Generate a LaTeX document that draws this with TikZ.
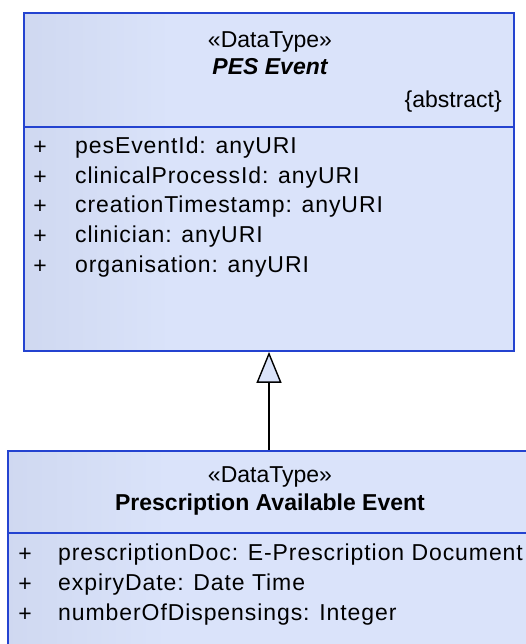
\documentclass[tikz,border=0pt]{standalone}
\usepackage{fontspec}
\setmainfont{Liberation Sans}
\usepackage{tikz}
\usetikzlibrary{positioning}
\usetikzlibrary{arrows.meta}

\definecolor{umlblue}{HTML}{2443D0}
\definecolor{umldark}{HTML}{C3CCE6}
\definecolor{umllight}{HTML}{DAE3FA}

% darker strip on the left, fading into the light fill
\pgfdeclarehorizontalshading{umlshade}{100bp}{color(0bp)=(umldark); color(8bp)=(umldark); color(40bp)=(umllight); color(100bp)=(umllight)}

\tikzset{
	classbox/.style={rectangle, draw=umlblue, line width=1.8pt, shading=umlshade, inner sep=0pt},
	compsep/.style={draw=umlblue, line width=1.8pt},
	umltext/.style={inner sep=0pt, font=\fontsize{23}{28}\selectfont},
	attr/.style={inner sep=0pt, anchor=west, font=\fontsize{23}{28}\selectfont\addfontfeature{LetterSpace=4}},
	vis/.style={umltext},
	generalise/.style={-{Triangle[length=31pt, width=25pt, fill=umllight, line width=1.4pt]}, line width=1.4pt, black},
}

\begin{document}
\begin{tikzpicture}[x=1pt, y=1pt]
	
	\useasboundingbox (0,0) rectangle (526,644);
	\clip (0,0) rectangle (526,644);
	
	% the two classes, centre and size
	\node[classbox, minimum width=490pt, minimum height=338pt] (PES) at (269,462) {};
	\node[classbox, minimum width=532pt, minimum height=213pt] (PAE) at (274,86.5) {};
	
	\draw[compsep] (24,517) -- (514,517);
	\draw[compsep] (8,111) -- (540,111);
	
	%%%%%%%%%%%%%%%%%%%%%%%%%%%%%%%%%%%%%%%%%%%%%%%%%%%%%%%%%%%%%%
	% PES Event
	\node[umltext] (PESStereo) at (270,602) {«DataType»};
	\node[umltext, below=6pt of PESStereo, font=\fontsize{23}{28}\selectfont\bfseries\itshape] (PESName) {PES Event};
	\node[umltext, anchor=east] (PESAbstract) at (502,542) {\{abstract\}};
	
	\node[vis] (PESVis1) at (40,496) {+};
	\node[vis] (PESVis2) at (40,466) {+};
	\node[vis] (PESVis3) at (40,437) {+};
	\node[vis] (PESVis4) at (40,407) {+};
	\node[vis] (PESVis5) at (40,377) {+};
	
	\node[attr] (PESAttr1) at (75,496) {pesEventId: anyURI};
	\node[attr] (PESAttr2) at (75,466) {clinicalProcessId: anyURI};
	\node[attr] (PESAttr3) at (75,437) {creationTimestamp: anyURI};
	\node[attr] (PESAttr4) at (75,407) {clinician: anyURI};
	\node[attr] (PESAttr5) at (75,377) {organisation: anyURI};
	
	%%%%%%%%%%%%%%%%%%%%%%%%%%%%%%%%%%%%%%%%%%%%%%%%%%%%%%%%%%%%%%
	% Prescription Available Event
	\node[umltext] (PAEStereo) at (270,167) {«DataType»};
	\node[umltext, below=6pt of PAEStereo, font=\fontsize{23}{28}\selectfont\bfseries] (PAEName) {Prescription Available Event};
	
	\node[vis] (PAEVis1) at (25,89) {+};
	\node[vis] (PAEVis2) at (25,59) {+};
	\node[vis] (PAEVis3) at (25,29) {+};
	
	\node[attr] (PAEAttr1) at (58,89) {prescriptionDoc: E-Prescription Document};
	\node[attr] (PAEAttr2) at (58,59) {expiryDate: Date Time};
	\node[attr] (PAEAttr3) at (58,29) {numberOfDispensings: Integer};
	
	% generalisation
	\draw[generalise] (PAE.north -| PES.south) -- (PES.south);
	
\end{tikzpicture}
\end{document}
